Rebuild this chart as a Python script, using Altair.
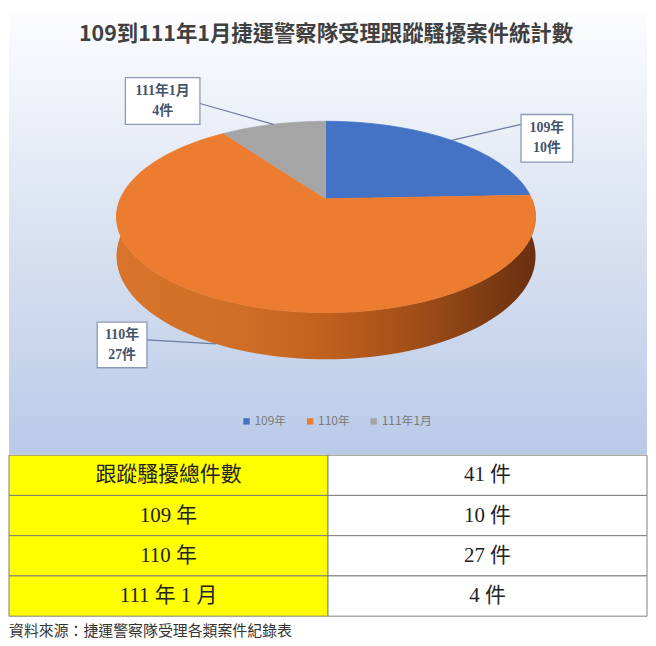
import altair as alt
import pandas as pd

# ---------------- data ----------------
TITLE = "109到111年1月捷運警察隊受理跟蹤騷擾案件統計數"
CATEGORIES = ["109年", "110年", "111年1月"]
COUNTS = [10, 27, 4]
COLORS = ["#4472C4", "#EB7C30", "#A5A5A5"]

TABLE_LABELS = ["跟蹤騷擾總件數", "109 年", "110 年", "111 年 1 月"]
TABLE_COUNTS = [41, 10, 27, 4]
TABLE_UNIT = "件"
SOURCE = "資料來源：捷運警察隊受理各類案件紀錄表"

# ---------------- layout / style ----------------
W = 642
H_PIE = 447
H_TABLE = 162
CX, CY = 327, 198          # pie vertex (pixel units of the panel scale)
R = 207                    # horizontal radius
TILT = 92.8                # vertical radius factor
PERSP = 0.19               # perspective strength
THICK = 38                 # pie thickness
NSEG = 90

LABEL_LAYOUT = pd.DataFrame({
    "cat": CATEGORIES,
    "box_dx": [96, -94.5, -111.5],
    "box_dy": [-2, 1, -23.5],
    "box_w": [52, 50, 75],
    "box_h": [48, 46, 47],
    "lead_dx": [70, -69.5, -74],
    "lead_dy": [-16, -4, -21],
})

TABLE_FILLS = {"label": "#FFFF00", "value": "#FFFFFF"}

SANS = '"Noto Sans CJK TC", "Noto Sans", sans-serif'
SERIF = '"Liberation Serif", "Noto Sans CJK TC", serif'

BG_GRADIENT = alt.Gradient(
    gradient="linear", x1=0, y1=0, x2=0, y2=1,
    stops=[
        alt.GradientStop(offset=0, color="#fdfdfe"),
        alt.GradientStop(offset=0.2, color="#eef2f9"),
        alt.GradientStop(offset=0.6, color="#d3ddef"),
        alt.GradientStop(offset=1, color="#b9cae8"),
    ],
)
SIDE_GRADIENT = alt.Gradient(
    gradient="linear", x1=0, y1=0, x2=1, y2=0,
    stops=[
        alt.GradientStop(offset=0, color="#d8742b"),
        alt.GradientStop(offset=0.32, color="#cf6d26"),
        alt.GradientStop(offset=0.5, color="#c0601e"),
        alt.GradientStop(offset=0.72, color="#a04d18"),
        alt.GradientStop(offset=0.9, color="#7a3a12"),
        alt.GradientStop(offset=1, color="#6a3010"),
    ],
)

XS = alt.Scale(domain=[8, 8 + W], nice=False, zero=False)
YS = alt.Scale(domain=[8, 8 + H_PIE], nice=False, zero=False, reverse=True)
COLOR_SCALE = alt.Scale(domain=CATEGORIES, range=COLORS)

pie_df = pd.DataFrame({"cat": CATEGORIES, "count": COUNTS,
                       "ord": list(range(len(CATEGORIES)))})
one = pd.DataFrame({"_": [0]})


def with_angles(chart):
    return (
        chart.transform_joinaggregate(total="sum(count)")
        .transform_window(cum="sum(count)", sort=[alt.SortField("ord")], frame=[None, 0])
        .transform_calculate(a0="2*PI*(datum.cum - datum.count)/datum.total")
        .transform_calculate(a1="2*PI*datum.cum/datum.total")
    )


def px(th):
    return f"{CX} + {R}*sin({th})/(1 + {PERSP}*cos({th}))"


def py(th):
    return f"{CY} - {TILT}*cos({th})/(1 + {PERSP}*cos({th}))"


def xy(xf, yf):
    return dict(x=alt.X(f"{xf}:Q", scale=XS, axis=None),
                y=alt.Y(f"{yf}:Q", scale=YS, axis=None))


# background
bg = alt.Chart(one).mark_rect(fill=BG_GRADIENT).encode(
    x=alt.value(0), x2=alt.value(W), y=alt.value(0), y2=alt.value(H_PIE)
)

# side (visible front part of every slice)
idx_side = "[" + ",".join(str(i) for i in range(0, 2 * NSEG + 2)) + "]"
side = (
    with_angles(alt.Chart(pie_df))
    .transform_calculate(s0="max(datum.a0, PI/2)")
    .transform_calculate(s1="min(datum.a1, 3*PI/2)")
    .transform_filter("datum.s1 > datum.s0")
    .transform_calculate(k=idx_side)
    .transform_flatten(["k"])
    .transform_calculate(
        th=f"datum.k <= {NSEG} ? datum.s0 + (datum.s1 - datum.s0)*datum.k/{NSEG} : "
           f"datum.s1 - (datum.s1 - datum.s0)*(datum.k - {NSEG} - 1)/{NSEG}"
    )
    .transform_calculate(sx=px("datum.th"))
    .transform_calculate(
        sy=py("datum.th") + f" + (datum.k > {NSEG} ? {THICK}/(1 + {PERSP}*cos(datum.th)) : 0)"
    )
    .mark_line(fill=SIDE_GRADIENT, strokeWidth=0, interpolate="linear")
    .encode(**xy("sx", "sy"), order=alt.Order("k:Q"), detail="cat:N")
)

# top faces
idx_top = "[" + ",".join(str(i) for i in range(-1, NSEG + 1)) + "]"
top = (
    with_angles(alt.Chart(pie_df))
    .transform_calculate(k=idx_top)
    .transform_flatten(["k"])
    .transform_calculate(th=f"datum.a0 + (datum.a1 - datum.a0)*max(datum.k, 0)/{NSEG}")
    .transform_calculate(tx=f"datum.k < 0 ? {CX} : " + px("datum.th"))
    .transform_calculate(ty=f"datum.k < 0 ? {CY} : " + py("datum.th"))
    .mark_line(strokeWidth=0.8, interpolate="linear")
    .encode(
        **xy("tx", "ty"),
        order=alt.Order("k:Q"),
        fill=alt.Fill(
            "cat:N", scale=COLOR_SCALE,
            legend=alt.Legend(
                orient="none", legendX=233, legendY=408, direction="horizontal",
                title=None, symbolType="square", symbolSize=42, symbolStrokeWidth=0,
                labelFont=SANS, labelFontSize=12, labelColor="#7a7a7a",
                columnPadding=18, labelOffset=2, padding=0,
            ),
        ),
        stroke=alt.Stroke("cat:N", scale=COLOR_SCALE, legend=None),
    )
)

# data labels
lab_df = pie_df.merge(LABEL_LAYOUT, on="cat")
lab = (
    with_angles(alt.Chart(lab_df))
    .transform_calculate(mid="(datum.a0 + datum.a1)/2")
    .transform_calculate(ax=px("datum.mid"))
    .transform_calculate(
        ay=py("datum.mid") + f" + (cos(datum.mid) < 0 ? {THICK}/(1 + {PERSP}*cos(datum.mid)) : 0)"
    )
    .transform_calculate(bx="datum.ax + datum.box_dx")
    .transform_calculate(by="datum.ay + datum.box_dy")
    .transform_calculate(lx="datum.ax + datum.lead_dx")
    .transform_calculate(ly="datum.ay + datum.lead_dy")
    .transform_calculate(bx1="datum.bx - datum.box_w/2")
    .transform_calculate(bx2="datum.bx + datum.box_w/2")
    .transform_calculate(by1="datum.by - datum.box_h/2")
    .transform_calculate(by2="datum.by + datum.box_h/2")
    .transform_calculate(label="datum.cat + '\\n' + datum.count + '件'")
)
leaders = lab.mark_rule(color="#6b7c9c", strokeWidth=1.2).encode(
    **xy("ax", "ay"), x2="lx:Q", y2="ly:Q"
)
boxes = lab.mark_rect(fill="white", stroke="#8b9ab4", strokeWidth=1.3).encode(
    **xy("bx1", "by1"), x2="bx2:Q", y2="by2:Q"
)
labels = lab.mark_text(
    lineBreak="\n", lineHeight=20, font=SERIF, fontSize=14, fontWeight="bold",
    color="#44546A", baseline="middle", dy=-10
).encode(**xy("bx", "by"), text="label:N")

title = alt.Chart(one).mark_text(
    text=TITLE, font=SANS, fontSize=21.5, fontWeight="bold", color="#404040"
).encode(x=alt.value(319), y=alt.value(25))

pie = alt.layer(bg, side, top, leaders, boxes, labels, title).properties(
    width=W, height=H_PIE
)

# table
rows = []
for i, (lab_txt, cnt) in enumerate(zip(TABLE_LABELS, TABLE_COUNTS)):
    rows.append({"row": i, "col": "label", "text": lab_txt, "bgc": TABLE_FILLS["label"]})
    rows.append({"row": i, "col": "value", "text": f"{cnt} {TABLE_UNIT}", "bgc": TABLE_FILLS["value"]})
tdf = pd.DataFrame(rows)

tx = alt.X("col:N", scale=alt.Scale(domain=["label", "value"], paddingInner=0, paddingOuter=0), axis=None)
ty = alt.Y("row:O", scale=alt.Scale(paddingInner=0, paddingOuter=0), axis=None)

cells = alt.Chart(tdf).mark_rect(stroke="#7f7f7f", strokeWidth=1).encode(
    x=tx, y=ty, fill=alt.Fill("bgc:N", scale=None),
)
ttext = alt.Chart(tdf).mark_text(font=SERIF, fontSize=21, color="#222222").encode(
    x=tx, y=ty, text="text:N"
)
src = alt.Chart(one).mark_text(
    text=SOURCE, align="left", font=SANS, fontSize=15, color="#333333"
).encode(x=alt.value(0), y=alt.value(177))

table = alt.layer(cells, ttext, src).properties(width=W, height=H_TABLE)

chart = (
    alt.vconcat(pie, table, spacing=0)
    .resolve_scale(fill="independent", stroke="independent")
    .properties(padding=0)
    .configure_view(stroke=None)
)

chart.save("out.html", embed_options={"renderer": "svg", "actions": False})
